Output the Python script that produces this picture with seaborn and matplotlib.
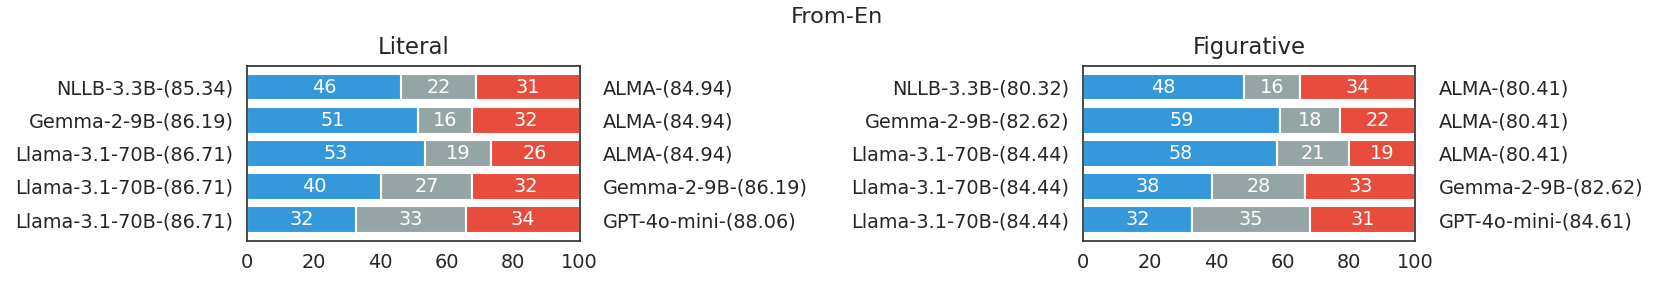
import numpy as np
import pandas as pd
import seaborn as sns
import matplotlib
matplotlib.use("Agg")
import matplotlib.pyplot as plt

# shares (%) per comparison row: left model better / tie / right model better
literal_left = ["NLLB-3.3B-(85.34)", "Gemma-2-9B-(86.19)", "Llama-3.1-70B-(86.71)",
                "Llama-3.1-70B-(86.71)", "Llama-3.1-70B-(86.71)"]
literal_right = ["ALMA-(84.94)", "ALMA-(84.94)", "ALMA-(84.94)",
                 "Gemma-2-9B-(86.19)", "GPT-4o-mini-(88.06)"]
literal_win = [46.3, 51.5, 53.5, 40.2, 32.6]
literal_tie = [22.5, 16.0, 19.8, 27.5, 33.2]
literal_loss = [31.2, 32.5, 26.7, 32.3, 34.2]

figurative_left = ["NLLB-3.3B-(80.32)", "Gemma-2-9B-(82.62)", "Llama-3.1-70B-(84.44)",
                   "Llama-3.1-70B-(84.44)", "Llama-3.1-70B-(84.44)"]
figurative_right = ["ALMA-(80.41)", "ALMA-(80.41)", "ALMA-(80.41)",
                    "Gemma-2-9B-(82.62)", "GPT-4o-mini-(84.61)"]
figurative_win = [48.4, 59.2, 58.5, 38.7, 32.8]
figurative_tie = [16.8, 18.1, 21.6, 28.2, 35.4]
figurative_loss = [34.8, 22.7, 19.9, 33.1, 31.8]

colors = ["#3498db", "#95a5a6", "#e74c3c"]

sns.set_theme(style="white")
plt.rcParams["font.family"] = ["DejaVu Sans"]

fs = 13.9


def stacked(ax, title, left_labels, right_labels, win, tie, loss):
    rows = np.arange(len(win))
    offset = np.zeros(len(win))
    for vals, c in zip([win, tie, loss], colors):
        df = pd.DataFrame({"row": rows, "share": vals})
        sns.barplot(data=df, x="share", y="row", orient="h", color=c,
                    errorbar=None, width=0.8, left=offset.copy(),
                    edgecolor="white", linewidth=1.5, saturation=1, ax=ax)
        ax.bar_label(ax.containers[-1], labels=[str(int(v)) for v in vals],
                     label_type="center", color="white", fontsize=fs)
        offset = offset + np.array(vals)

    ax.set_xlim(0, 100)
    ax.set_ylim(4.64, -0.64)
    ax.set_xticks([0, 20, 40, 60, 80, 100])
    ax.set_yticks(rows, left_labels)
    ax.set_xlabel("")
    ax.set_ylabel("")
    ax.tick_params(axis="x", length=0, pad=9, labelsize=fs)
    ax.tick_params(axis="y", length=0, pad=10, labelsize=fs)
    ax.set_title(title, fontsize=16.5, pad=9)
    for s in ax.spines.values():
        s.set_linewidth(1.25)
        s.set_color("#333333")

    ax2 = ax.twinx()
    ax2.set_ylim(ax.get_ylim())
    ax2.set_yticks(rows, right_labels)
    ax2.tick_params(axis="y", length=0, pad=17, labelsize=fs)
    for s in ax2.spines.values():
        s.set_visible(False)


fig = plt.figure(figsize=(16.6, 2.87), dpi=100)
ax_lit = fig.add_axes([0.149, 0.1613, 0.2002, 0.6087])
ax_fig = fig.add_axes([0.6524, 0.1613, 0.2002, 0.6087])

stacked(ax_lit, "Literal", literal_left, literal_right,
        literal_win, literal_tie, literal_loss)
stacked(ax_fig, "Figurative", figurative_left, figurative_right,
        figurative_win, figurative_tie, figurative_loss)

fig.suptitle("From-En", fontsize=16.2, x=0.504, y=0.975)
fig.savefig("out.png", dpi=100)
